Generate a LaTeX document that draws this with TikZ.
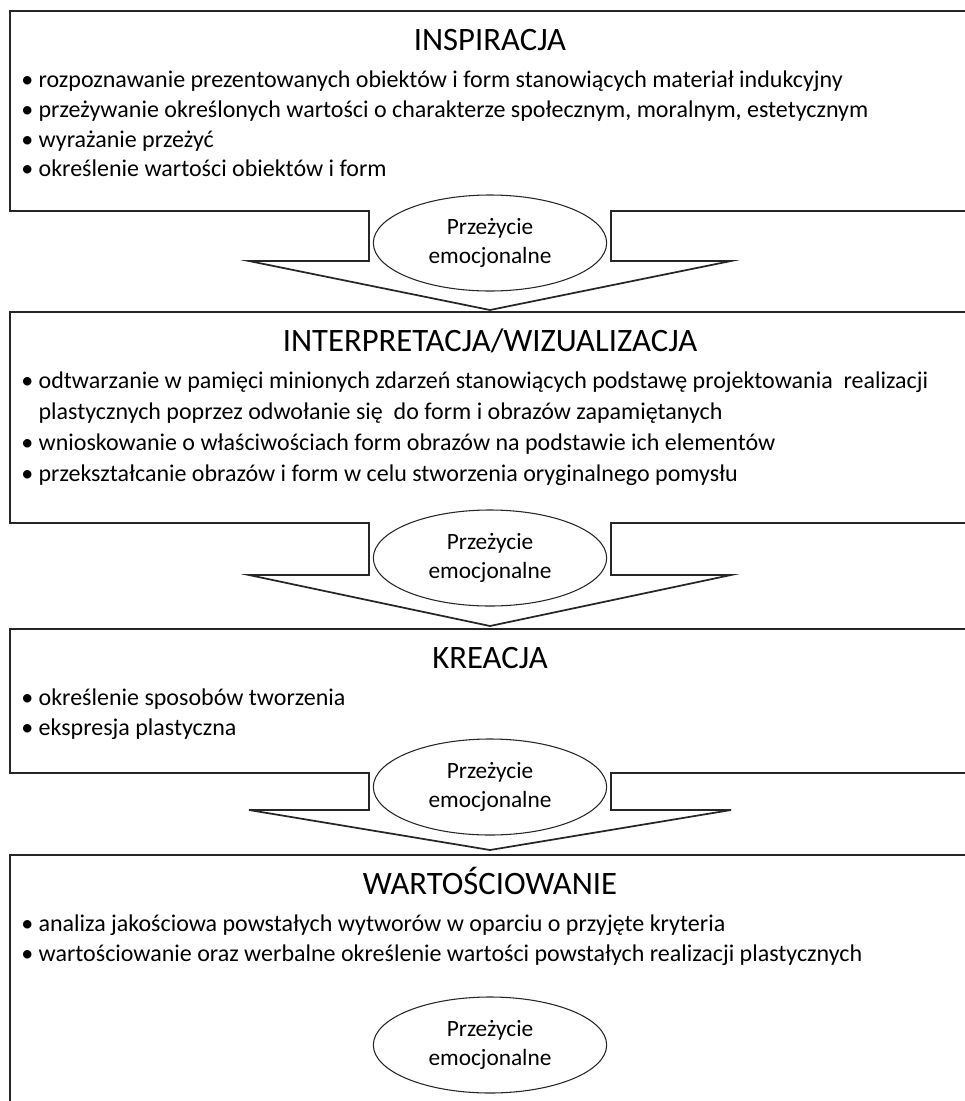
\documentclass[tikz,border=0pt]{standalone}
\usepackage{fontspec}
\setmainfont{Carlito}
\usetikzlibrary{shapes.geometric}
\tikzset{boxline/.style={ % Frame of a stage together with its block arrow
draw=black!85,
line width=1.3pt},
title/.style={anchor=base,
font=\fontsize{24.5}{29}\selectfont},
item/.style={anchor=base west, % Bullet lines, placed by their baseline
inner sep=0pt,
font=\fontsize{18}{22}\selectfont},
feel/.style={ellipse, % The "Przezycie emocjonalne" ovals
draw=black!85,
line width=0.8pt,
fill=white,
minimum width=175pt,
minimum height=72pt,
inner sep=0pt,
align=center,
font=\fontsize{17.5}{21.75}\selectfont}}

\begin{document}
\begin{tikzpicture}[x=0.75pt,y=-0.75pt]
    \useasboundingbox (0,0) rectangle (965,1101);
    \clip (0,0) rectangle (965,1101);
    % INSPIRACJA
    \draw[boxline] (980,11) -- (10,11) -- (10,211) -- (369,211) -- (369,261) -- (249,261) -- (490,310) -- (731,261) -- (611,261) -- (611,211) -- (980,211);
    \node[title] (t1) at (490,50) {INSPIRACJA};
    \node[item] (i11) at (21,87) {• rozpoznawanie prezentowanych obiektów i form stanowiących materiał indukcyjny};
    \node[item] (i12) at (21,117) {• przeżywanie określonych wartości o charakterze społecznym, moralnym, estetycznym};
    \node[item] (i13) at (21,147) {• wyrażanie przeżyć};
    \node[item] (i14) at (21,176) {• określenie wartości obiektów i form};
    \node[feel] (e1) at (490,243) {Przeżycie\\emocjonalne};
    % INTERPRETACJA/WIZUALIZACJA
    \draw[boxline] (980,312) -- (10,312) -- (10,523) -- (369,523) -- (369,575) -- (249,575) -- (490,626) -- (731,575) -- (611,575) -- (611,523) -- (980,523);
    \node[title] (t2) at (490,351) {INTERPRETACJA/WIZUALIZACJA};
    \node[item] (i21) at (21,388) {• odtwarzanie w pamięci minionych zdarzeń stanowiących podstawę projektowania\ \ realizacji};
    \node[item] (i22) at (21,419) {\phantom{• }plastycznych poprzez odwołanie się\ \ do form i obrazów zapamiętanych};
    \node[item] (i23) at (21,450) {• wnioskowanie o właściwościach form obrazów na podstawie ich elementów};
    \node[item] (i24) at (21,481) {• przekształcanie obrazów i form w celu stworzenia oryginalnego pomysłu};
    \node[feel] (e2) at (490,558) {Przeżycie\\emocjonalne};
    % KREACJA
    \draw[boxline] (980,629) -- (10,629) -- (10,773) -- (369,773) -- (369,810) -- (249,810) -- (490,850) -- (731,810) -- (611,810) -- (611,773) -- (980,773);
    \node[title] (t3) at (490,668) {KREACJA};
    \node[item] (i31) at (21,705) {• określenie sposobów tworzenia};
    \node[item] (i32) at (21,735) {• ekspresja plastyczna};
    \node[feel] (e3) at (490,787) {Przeżycie\\emocjonalne};
    % WARTOSCIOWANIE
    \draw[boxline] (980,855) -- (10,855) -- (10,1120);
    \node[title] (t4) at (490,894) {WARTOŚCIOWANIE};
    \node[item] (i41) at (21,931) {• analiza jakościowa powstałych wytworów w oparciu o przyjęte kryteria};
    \node[item] (i42) at (21,961) {• wartościowanie oraz werbalne określenie wartości powstałych realizacji plastycznych};
    \node[feel] (e4) at (490,1045) {Przeżycie\\emocjonalne};
\end{tikzpicture}
\end{document}
